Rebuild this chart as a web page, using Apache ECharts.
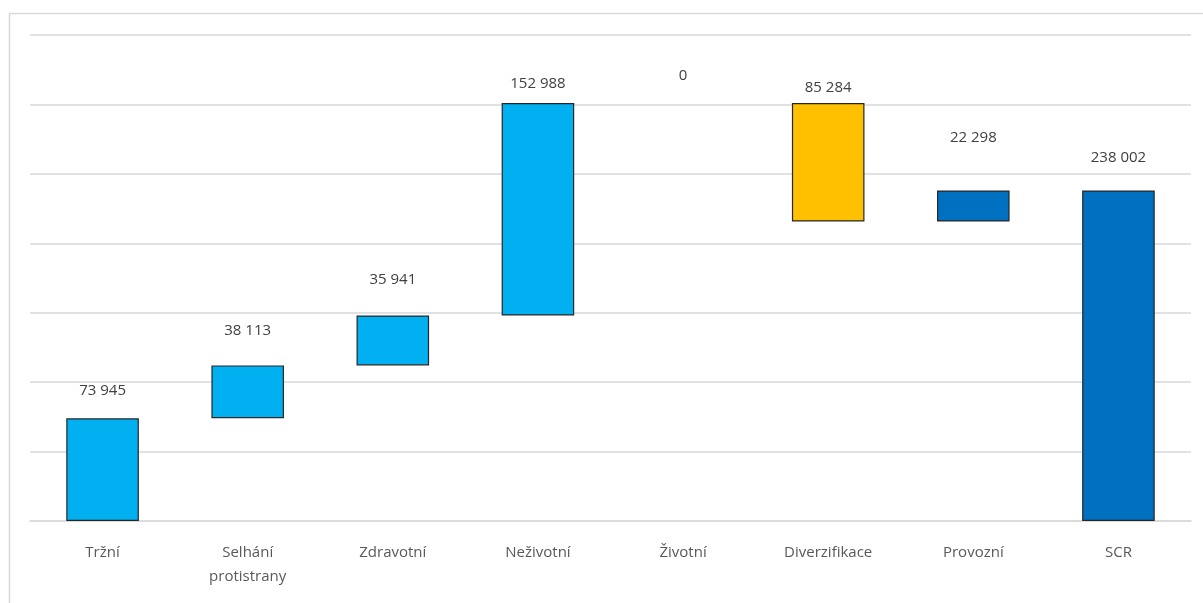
<!DOCTYPE html>
<html><head><meta charset="utf-8">
<script src="https://cdn.jsdelivr.net/npm/echarts@6/dist/echarts.min.js"></script>
<style>html,body{margin:0;padding:0;background:#fff}#c{width:1203px;height:603px}</style>
</head><body><div id="c"></div>
<script>
var categories = ['Tržní', 'Selhání\nprotistrany', 'Zdravotní', 'Neživotní', 'Životní', 'Diverzifikace', 'Provozní', 'SCR'];
var deltas = [73945, 38113, 35941, 152988, 0, -85284, 22298, 238002];
var kinds = ['step', 'step', 'step', 'step', 'step', 'step', 'op', 'total'];
var yTicks = [0, 50000, 100000, 150000, 200000, 250000, 300000, 350000];

var kindColor = { step: '#00B0F0', neg: '#FFC000', op: '#0070C0', total: '#0070C0' };
var labelDist = [20, 27, 28, 12, 20, 8, 45, 25];

var base = [], height = [], cum = 0;
for (var i = 0; i < deltas.length; i++) {
  var d = deltas[i];
  if (kinds[i] === 'total') { base.push(0); height.push(d); cum = d; continue; }
  if (d >= 0) { base.push(cum); height.push(d); cum += d; }
  else { cum += d; base.push(cum); height.push(-d); }
}
function fmt(v) { return String(Math.round(v)).replace(/\B(?=(\d{3})+(?!\d))/g, ' '); }

var chart = echarts.init(document.getElementById('c'));
chart.setOption({
  animation: false,
  graphic: [{ type: 'rect', shape: { x: 9.5, y: 13.5, width: 1400, height: 800 }, style: { fill: 'none', stroke: '#d9d9d9', lineWidth: 1.5 }, silent: true }],
  grid: { left: 30, right: 12, top: 35, bottom: 82 },
  xAxis: {
    type: 'category', data: categories,
    axisLine: { lineStyle: { color: '#d9d9d9', width: 1.5 } },
    axisTick: { show: false },
    axisLabel: { color: '#595959', fontSize: 15, fontFamily: 'Open Sans', margin: 20, lineHeight: 24, interval: 0 }
  },
  yAxis: {
    type: 'value', min: yTicks[0], max: yTicks[yTicks.length - 1], interval: yTicks[1] - yTicks[0],
    axisLabel: { show: false }, axisLine: { show: false }, axisTick: { show: false },
    splitLine: { lineStyle: { color: '#d9d9d9', width: 1.5 } }
  },
  series: [
    { type: 'bar', stack: 'w', data: base, itemStyle: { color: 'transparent' }, barWidth: '50%', silent: true },
    { type: 'bar', stack: 'w', barWidth: '50%',
      data: height.map(function (h, i) {
        var k = deltas[i] < 0 ? 'neg' : kinds[i];
        return {
          value: h,
          itemStyle: { color: kindColor[k], borderColor: '#262626', borderWidth: h === 0 ? 0 : 1.2 },
          label: { distance: labelDist[i] }
        };
      }),
      label: { show: true, position: 'top', color: '#404040', fontSize: 15, fontFamily: 'Open Sans',
        formatter: function (p) { return fmt(Math.abs(deltas[p.dataIndex])); } }
    }
  ]
});
</script></body></html>
